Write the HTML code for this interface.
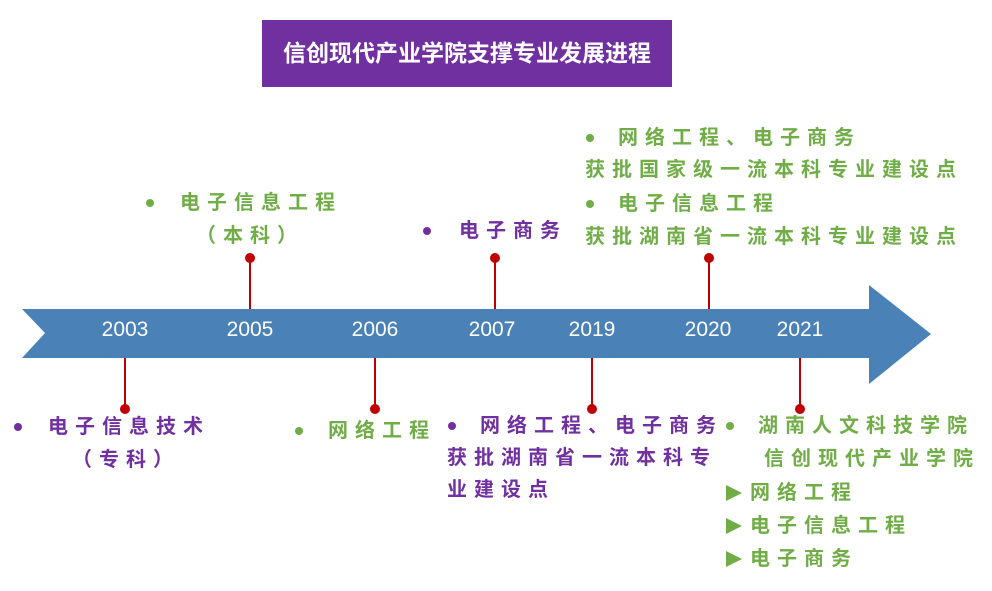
<!DOCTYPE html>
<html><head><meta charset="utf-8"><style>
body{margin:0;width:992px;height:591px;background:#fff;position:relative;overflow:hidden;font-family:"Liberation Sans","Noto Sans CJK SC",sans-serif}
.t{position:absolute;white-space:nowrap;font-weight:bold;font-size:20px;letter-spacing:7px;line-height:24px}
.g{color:#70AD47}.p{color:#7030A0}
.y{position:absolute;color:#fff;font-size:21px;width:80px;text-align:center;line-height:24px;font-family:"Liberation Sans",sans-serif}
.d{position:absolute;width:8px;height:8px;border-radius:50%}
.a{position:absolute;width:0;height:0;border-top:8px solid transparent;border-bottom:8px solid transparent;border-left:16px solid #70AD47}
</style></head><body>
<div style="position:absolute;left:262px;top:20px;width:410px;height:67px;background:#7030A0;color:#fff;font-weight:bold;font-size:23px;line-height:67px;text-align:center;font-family:'Liberation Sans','Noto Sans CJK SC',sans-serif">信创现代产业学院支撑专业发展进程</div>
<svg width="992" height="591" style="position:absolute;left:0;top:0">
<polygon points="22,309 869,309 869,285 931,334 869,384 869,358 22,358 45,333" fill="#4A82B8"/>
<g stroke="#C00000" stroke-width="2" fill="#C00000">
<line x1="250" y1="258" x2="250" y2="309"/><circle cx="250" cy="258" r="4"/>
<line x1="495" y1="258" x2="495" y2="309"/><circle cx="495" cy="258" r="4"/>
<line x1="709" y1="258" x2="709" y2="309"/><circle cx="709" cy="258" r="4"/>
<line x1="125" y1="358" x2="125" y2="409"/><circle cx="125" cy="409" r="4"/>
<line x1="375" y1="358" x2="375" y2="409"/><circle cx="375" cy="409" r="4"/>
<line x1="592" y1="358" x2="592" y2="409"/><circle cx="592" cy="409" r="4"/>
<line x1="800" y1="358" x2="800" y2="409"/><circle cx="800" cy="409" r="4"/>
</g></svg>
<div class="y" style="left:85px;top:318px">2003</div>
<div class="y" style="left:210px;top:318px">2005</div>
<div class="y" style="left:335px;top:318px">2006</div>
<div class="y" style="left:452px;top:318px">2007</div>
<div class="y" style="left:552px;top:318px">2019</div>
<div class="y" style="left:668px;top:318px">2020</div>
<div class="y" style="left:760px;top:318px">2021</div>

<div class="d" style="left:146px;top:199px;background:#70AD47"></div>
<div class="t g" style="left:180px;top:191px">电子信息工程</div>
<div class="t g" style="left:196px;top:224px">（本科）</div>
<div class="d" style="left:423px;top:227px;background:#7030A0"></div>
<div class="t p" style="left:459px;top:219px">电子商务</div>
<div class="d" style="left:586px;top:134px;background:#70AD47"></div>
<div class="t g" style="left:618px;top:126px">网络工程、电子商务</div>
<div class="t g" style="left:585px;top:158px">获批国家级一流本科专业建设点</div>
<div class="d" style="left:586px;top:200px;background:#70AD47"></div>
<div class="t g" style="left:618px;top:192px">电子信息工程</div>
<div class="t g" style="left:585px;top:225px">获批湖南省一流本科专业建设点</div>

<div class="d" style="left:14px;top:423px;background:#7030A0"></div>
<div class="t p" style="left:48px;top:415px">电子信息技术</div>
<div class="t p" style="left:72px;top:448px">（专科）</div>
<div class="d" style="left:295px;top:427px;background:#70AD47"></div>
<div class="t g" style="left:328px;top:419px">网络工程</div>
<div class="d" style="left:448px;top:422px;background:#7030A0"></div>
<div class="t p" style="left:480px;top:414px">网络工程、电子商务</div>
<div class="t p" style="left:447px;top:446px">获批湖南省一流本科专</div>
<div class="t p" style="left:447px;top:478px">业建设点</div>
<div class="d" style="left:726px;top:422px;background:#70AD47"></div>
<div class="t g" style="left:758px;top:414px">湖南人文科技学院</div>
<div class="t g" style="left:764px;top:447px">信创现代产业学院</div>
<div class="a" style="left:726px;top:485px"></div>
<div class="t g" style="left:750px;top:481px">网络工程</div>
<div class="a" style="left:726px;top:518px"></div>
<div class="t g" style="left:750px;top:514px">电子信息工程</div>
<div class="a" style="left:726px;top:551px"></div>
<div class="t g" style="left:750px;top:547px">电子商务</div>
</body></html>
